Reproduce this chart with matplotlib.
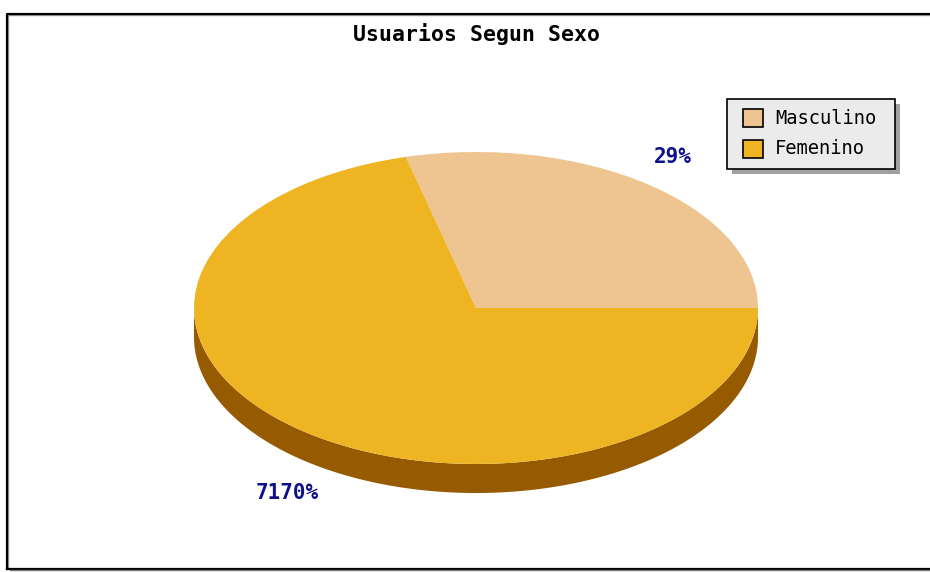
import numpy as np
import matplotlib.pyplot as plt
from matplotlib.patches import Polygon, Rectangle

# Data
labels = ['Masculino', 'Femenino']
values = [29, 71]
pct_text = ['29%', '7170%']
colors = ['#EEC591', '#EEB422']
side_colors = ['#9A5E00', '#965A00']

W, H = 930, 572
fig = plt.figure(figsize=(W / 100, H / 100), dpi=100)
fig.patch.set_facecolor('white')

# frame (drawn in a full-figure pixel axes)
bg = fig.add_axes([0, 0, 1, 1])
bg.set_xlim(0, W)
bg.set_ylim(H, 0)
bg.axis('off')
bg.plot([8, 8, W], [568, 14.5, 14.5], color='#999999', lw=1)
bg.plot([6.5, 6.5, W], [568.5, 13.5, 13.5], color='black', lw=1.6)
bg.plot([7, W], [568.5, 568.5], color='black', lw=1.6)
bg.plot([10, W], [570, 570], color='#777777', lw=1)

# pie geometry in pixels
cx, cy, rx, ry, depth = 476, 308, 282, 156, 29
ax = fig.add_axes([(cx - rx) / W, (H - cy - ry) / H, 2 * rx / W, 2 * ry / H])
wedges, _ = ax.pie(values, colors=colors, startangle=0, counterclock=True,
                   radius=1, wedgeprops=dict(linewidth=0))
ax.set_aspect('auto')
ax.set_xlim(-1, 1)
ax.set_ylim(-1, 1)

# 3D side for the front half
d = depth / ry
angles = np.cumsum([0] + values) / sum(values) * 360
for i in range(len(values)):
    a0, a1 = max(angles[i], 180), min(angles[i + 1], 360)
    if a1 <= a0:
        continue
    t = np.radians(np.linspace(a0, a1, 200))
    top = np.column_stack([np.cos(t), np.sin(t)])
    bot = np.column_stack([np.cos(t[::-1]), np.sin(t[::-1]) - d])
    ax.add_patch(Polygon(np.vstack([top, bot]), closed=True,
                         facecolor=side_colors[i], edgecolor='none',
                         clip_on=False, zorder=0))

# title
fig.text(cx / W, 1 - 34 / H, 'Usuarios Segun Sexo', ha='center', va='center',
         family='DejaVu Sans Mono', weight='bold', fontsize=15.5)

# percent labels
lab_pos = [(673, 157), (287, 493)]
for (x, y), s in zip(lab_pos, pct_text):
    fig.text(x / W, 1 - y / H, s, ha='center', va='center', color='#10108C',
             family='DejaVu Sans Mono', weight='bold', fontsize=15)

# legend box with shadow
bg.add_patch(Rectangle((732, 104), 168, 70, facecolor='#A0A0A0', edgecolor='none'))
bg.add_patch(Rectangle((727, 99), 168, 70, facecolor='#EBEBEB', edgecolor='black', lw=1.2))
for i, lab in enumerate(labels):
    y = 118 + i * 31
    bg.add_patch(Rectangle((743, y - 9), 20, 18, facecolor=colors[i],
                           edgecolor='black', lw=1.2))
    bg.text(775, y, lab, ha='left', va='center', family='DejaVu Sans Mono',
            fontsize=13.5, color='black')

fig.savefig('out.png', dpi=100)
